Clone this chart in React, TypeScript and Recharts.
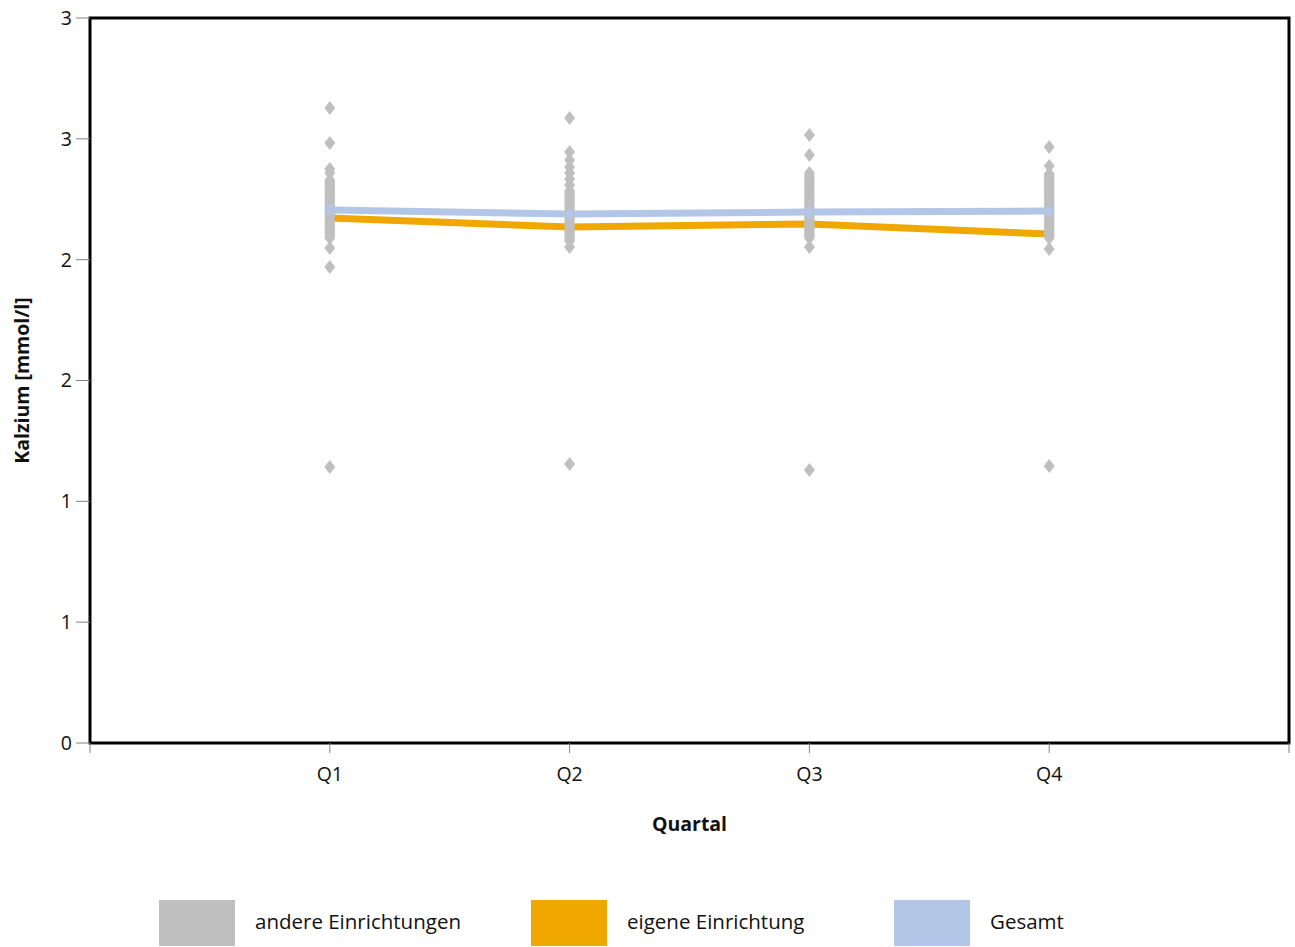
import React from 'react';
import {
  ComposedChart,
  Line,
  Scatter,
  XAxis,
  YAxis,
  ReferenceArea,
  Legend,
  Label,
} from 'recharts';

const quarterLabels = ['', 'Q1', 'Q2', 'Q3', 'Q4', ''];
const quarterPositions = [1, 2, 3, 4];
const xTicks = [0, 1, 2, 3, 4, 5];
const yTicks = [0, 0.5, 1, 1.5, 2, 2.5, 3];

const andereQ1 = [2.628, 2.483, 2.375, 2.359, 2.33, 2.321, 2.313, 2.305, 2.296, 2.288, 2.28, 2.272, 2.263, 2.255, 2.247, 2.239, 2.23, 2.222, 2.214, 2.206, 2.197, 2.189, 2.18, 2.172, 2.164, 2.156, 2.147, 2.139, 2.131, 2.123, 2.114, 2.106, 2.098, 2.09, 2.048, 1.97, 1.142];
const andereQ2 = [2.586, 2.446, 2.412, 2.383, 2.359, 2.334, 2.309, 2.285, 2.276, 2.268, 2.259, 2.251, 2.243, 2.234, 2.226, 2.218, 2.21, 2.201, 2.193, 2.185, 2.177, 2.168, 2.16, 2.152, 2.143, 2.135, 2.127, 2.118, 2.11, 2.102, 2.094, 2.085, 2.077, 2.052, 1.154];
const andereQ3 = [2.516, 2.433, 2.359, 2.347, 2.338, 2.33, 2.321, 2.313, 2.305, 2.296, 2.288, 2.28, 2.272, 2.263, 2.255, 2.247, 2.239, 2.23, 2.222, 2.214, 2.206, 2.197, 2.189, 2.18, 2.172, 2.164, 2.156, 2.147, 2.139, 2.131, 2.123, 2.114, 2.106, 2.098, 2.09, 2.052, 1.13];
const andereQ4 = [2.466, 2.388, 2.354, 2.346, 2.338, 2.33, 2.321, 2.313, 2.305, 2.296, 2.288, 2.28, 2.272, 2.263, 2.255, 2.247, 2.239, 2.23, 2.222, 2.214, 2.206, 2.197, 2.189, 2.18, 2.172, 2.164, 2.156, 2.147, 2.139, 2.131, 2.123, 2.114, 2.106, 2.098, 2.09, 2.044, 1.146];

const eigene = [2.172, 2.135, 2.148, 2.106];
const gesamt = [2.206, 2.189, 2.197, 2.201];

const seriesNames = ['andere Einrichtungen', 'eigene Einrichtung', 'Gesamt'];
const seriesColors = ['#BFBFBF', '#F0A800', '#B4C6E7'];

const andereLists = [andereQ1, andereQ2, andereQ3, andereQ4];
const andereData = andereLists.flatMap((list, i) =>
  list.map((v) => ({ x: quarterPositions[i], y: v }))
);
const lineData = quarterPositions.map((x, i) => ({ x, eigene: eigene[i], gesamt: gesamt[i] }));
const gesamtPoints = quarterPositions.map((x, i) => ({ x, y: gesamt[i] }));

const FONT = '"Open Sans", "Noto Sans", sans-serif';

const makeDiamond = (color: string) => (props: any) => {
  const { cx, cy } = props;
  if (cx == null || cy == null) return <g />;
  const w = 5.5;
  const h = 7;
  return (
    <polygon
      points={`${cx},${cy - h} ${cx + w},${cy} ${cx},${cy + h} ${cx - w},${cy}`}
      fill={color}
    />
  );
};

const legendSlots = [372, 363, 200];

const CustomLegend = () => (
  <div style={{ display: 'flex', paddingLeft: 159, fontFamily: FONT, fontSize: 20.5, color: '#111' }}>
    {seriesNames.map((name, i) => (
      <div key={name} style={{ width: legendSlots[i], height: 46, display: 'flex', alignItems: 'center' }}>
        <div style={{ width: 76, height: 46, background: seriesColors[i], marginRight: 20, flexShrink: 0 }} />
        <span style={{ position: 'relative', top: -2 }}>{name}</span>
      </div>
    ))}
  </div>
);

export default function App() {
  return (
    <div style={{ position: 'absolute', left: 0, top: 0, width: 1295, height: 947, background: '#fff' }}>
      <ComposedChart
        width={1295}
        height={947}
        margin={{ top: 18, right: 6, bottom: 0, left: 0 }}
        style={{ fontFamily: FONT }}
      >
        <XAxis
          type="number"
          dataKey="x"
          domain={[0, 5]}
          ticks={xTicks}
          tickFormatter={(v: number) => quarterLabels[v] ?? ''}
          height={204}
          axisLine={false}
          tickLine={{ stroke: '#808080' }}
          tickSize={10}
          tickMargin={14}
          tick={{ fill: '#111', fontSize: 19.5, fontFamily: FONT }}
          interval={0}
          allowDataOverflow
        >
          <Label
            value="Quartal"
            position="insideTop"
            offset={74}
            style={{ fontWeight: 700, fontSize: 19.5, fill: '#111', fontFamily: FONT }}
          />
        </XAxis>
        <YAxis
          type="number"
          domain={[0, 3]}
          ticks={yTicks}
          tickFormatter={(v: number) => String(Math.round(v))}
          width={90}
          axisLine={false}
          tickLine={{ stroke: '#808080' }}
          tickSize={14}
          tickMargin={4}
          tick={{ fill: '#111', fontSize: 19.5, fontFamily: FONT }}
          interval={0}
          allowDataOverflow
        >
          <Label
            value="Kalzium [mmol/l]"
            angle={-90}
            position="center"
            dx={-23}
            style={{ fontWeight: 700, fontSize: 19.5, fill: '#111', fontFamily: FONT, textAnchor: 'middle' }}
          />
        </YAxis>
        <ReferenceArea
          x1={0}
          x2={5}
          y1={0}
          y2={3}
          fill="none"
          fillOpacity={0}
          stroke="#000"
          strokeWidth={3}
          ifOverflow="visible"
        />
        <Line
          data={lineData}
          dataKey="eigene"
          name={seriesNames[1]}
          stroke={seriesColors[1]}
          strokeWidth={7}
          dot={false}
          activeDot={false}
          isAnimationActive={false}
        />
        <Line
          data={lineData}
          dataKey="gesamt"
          name={seriesNames[2]}
          stroke={seriesColors[2]}
          strokeWidth={7}
          dot={false}
          activeDot={false}
          isAnimationActive={false}
        />
        <Scatter
          data={andereData}
          dataKey="y"
          name={seriesNames[0]}
          fill={seriesColors[0]}
          shape={makeDiamond(seriesColors[0])}
          isAnimationActive={false}
        />
        <Scatter
          data={gesamtPoints}
          dataKey="y"
          name="Gesamt Punkte"
          fill={seriesColors[2]}
          shape={makeDiamond(seriesColors[2])}
          legendType="none"
          isAnimationActive={false}
        />
        <Legend
          layout="horizontal"
          verticalAlign="middle"
          align="center"
          wrapperStyle={{ top: 900, left: 0, width: 1295, height: 46 }}
          content={() => <CustomLegend />}
        />
      </ComposedChart>
    </div>
  );
}
